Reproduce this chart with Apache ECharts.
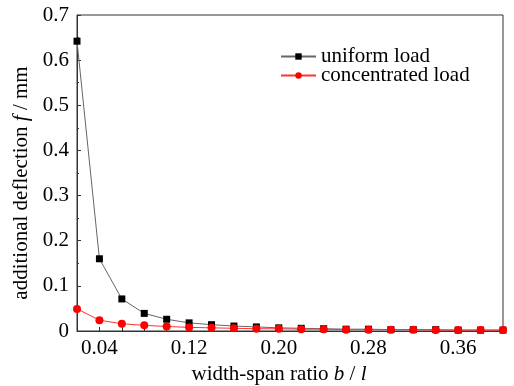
<!DOCTYPE html>
<html><head><meta charset="utf-8">
<script src="https://cdn.jsdelivr.net/npm/echarts@6/dist/echarts.min.js"></script>
<style>html,body{margin:0;padding:0;background:#fff}#c{width:514px;height:386px}</style>
</head><body><div id="c"></div>
<script>
const ratios = [0.02,0.04,0.06,0.08,0.10,0.12,0.14,0.16,0.18,0.20,0.22,0.24,0.26,0.28,0.30,0.32,0.34,0.36,0.38,0.40];
const uniformLoad = [0.642,0.160,0.071,0.039,0.026,0.018,0.014,0.011,0.009,0.007,0.006,0.005,0.004,0.004,0.003,0.003,0.003,0.002,0.002,0.002];
const concentratedLoad = [0.049,0.024,0.016,0.0125,0.010,0.008,0.007,0.006,0.005,0.005,0.004,0.004,0.003,0.003,0.003,0.003,0.002,0.002,0.002,0.002];
const seriesNames = ['uniform load','concentrated load'];
const xLabelValues = [0.04,0.12,0.20,0.28,0.36];

const font = 'Liberation Serif';
const fs = 21;
const chart = echarts.init(document.getElementById('c'));
chart.setOption({
  animation:false,
  backgroundColor:'#fff',
  grid:{left:77,right:11,top:15,bottom:55,outerBoundsMode:'none',containLabel:false,show:true,borderColor:'#333',borderWidth:1,backgroundColor:'transparent'},
  legend:{
    left:275, top:41, orient:'vertical', itemGap:-2, itemWidth:35, itemHeight:8,
    textStyle:{fontFamily:font,fontSize:fs,color:'#000'},
    data:seriesNames
  },
  xAxis:{
    type:'value', min:0.02, max:0.40, interval:0.02,
    axisLine:{lineStyle:{color:'#333',width:1}},
    axisTick:{inside:true,length:4,lineStyle:{color:'#333'}},
    splitLine:{show:false},
    axisLabel:{fontFamily:font,fontSize:fs,color:'#000',margin:7,
      formatter:v=>{ for(const t of xLabelValues){ if(Math.abs(v-t)<1e-6) return t.toFixed(2);} return ''; }},
    name:'{a|width-span ratio }{i|b}{a| / }{i|l}', nameLocation:'middle', nameGap:33,
    nameTextStyle:{padding:[0,22,0,0],rich:{a:{fontFamily:font,fontSize:fs,color:'#000'},i:{fontFamily:font,fontSize:fs,fontStyle:'italic',color:'#000'}}}
  },
  yAxis:{
    type:'value', min:0, max:0.7, interval:0.1,
    axisLine:{show:true,lineStyle:{color:'#333',width:1}},
    axisTick:{inside:true,length:4,lineStyle:{color:'#333'}},
    minorTick:{show:true,splitNumber:2,length:2,lineStyle:{color:'#333'}},
    splitLine:{show:false},
    axisLabel:{fontFamily:font,fontSize:fs,color:'#000',margin:8,
      formatter:v=> v===0 ? '0' : v.toFixed(1)},
    name:'{a|additional deflection }{i|f}{a| / mm}', nameLocation:'middle', nameGap:44,
    nameTextStyle:{padding:[0,20,0,0],rich:{a:{fontFamily:font,fontSize:fs,color:'#000'},i:{fontFamily:font,fontSize:fs,fontStyle:'italic',color:'#000'}}}
  },
  series:[
    {name:seriesNames[0], type:'line', data:ratios.map((x,i)=>[x,uniformLoad[i]]),
     symbol:'rect', symbolSize:7, itemStyle:{color:'#000'}, lineStyle:{color:'#666',width:1}},
    {name:seriesNames[1], type:'line', data:ratios.map((x,i)=>[x,concentratedLoad[i]]),
     symbol:'circle', symbolSize:8, itemStyle:{color:'#ff0000'}, lineStyle:{color:'#ff3333',width:1}, z:3}
  ]
});
</script></body></html>
